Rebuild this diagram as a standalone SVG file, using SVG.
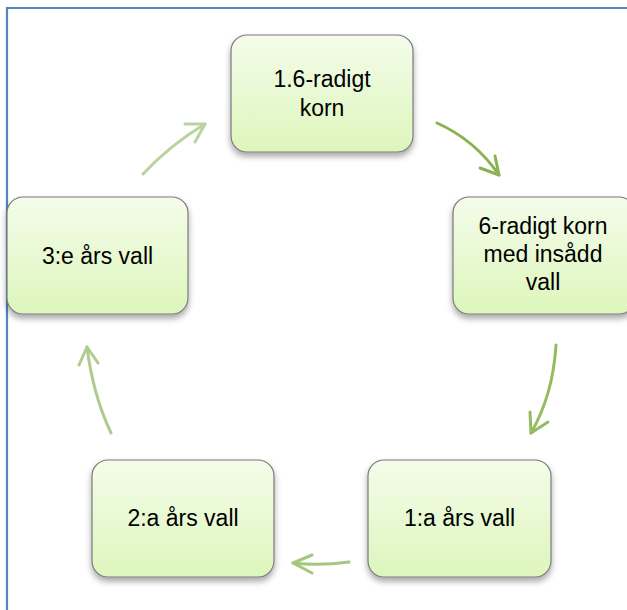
<svg xmlns="http://www.w3.org/2000/svg" width="627" height="610" viewBox="0 0 627 610">
<defs>
<linearGradient id="g" x1="0" y1="0" x2="0" y2="1">
<stop offset="0" stop-color="#F4FCEA"/>
<stop offset="1" stop-color="#DDF6BC"/>
</linearGradient>
<filter id="sh" x="-10%" y="-10%" width="120%" height="130%">
<feDropShadow dx="0" dy="4" stdDeviation="3" flood-color="#000" flood-opacity="0.35"/>
</filter>
</defs>
<style>
.box{fill:url(#g);stroke:#7A7A7A;stroke-width:1.2;filter:url(#sh)}
.t{font-family:"Liberation Sans",Arial,sans-serif;font-size:23px;fill:#000;text-anchor:middle}
.a{fill:none;stroke-width:3;stroke-linecap:round;stroke-linejoin:round}
</style>
<rect width="627" height="610" fill="#fff"/>
<path d="M7 610 V8 H627" fill="none" stroke="#5585C0" stroke-width="2.2"/>
<g id="connectors">
<g class="a" stroke="#8AB34F"><path d="M437 123 Q475 140 499 175"/><path d="M480 168 L499 175 L495 156"/></g>
<g class="a" stroke="#95BB60"><path d="M556 345 Q553 395 531 433"/><path d="M530 412 L531 433 L548 422"/></g>
<g class="a" stroke="#A5C67E"><path d="M349 562 Q320 566 293 563"/><path d="M312 555 L293 563 L312 573"/></g>
<g class="a" stroke="#AFCC8E"><path d="M111 433 Q93 395 87 347"/><path d="M79 365 L87 347 L98 363"/></g>
<g class="a" stroke="#BAD49F"><path d="M143 174 Q170 145 205 124"/><path d="M185 124 L205 124 L195 142"/></g>
</g>
<g id="n1"><rect class="box" x="231" y="35" width="182" height="117" rx="16"/>
<text class="t" x="322" y="87">1.6-radigt</text><text class="t" x="322" y="116">korn</text></g>
<g id="n2"><rect class="box" x="453" y="197" width="182" height="117" rx="16"/>
<text class="t" x="543" y="234">6-radigt korn</text><text class="t" x="543" y="262">med insådd</text><text class="t" x="543" y="290">vall</text></g>
<g id="n3"><rect class="box" x="368" y="460" width="183" height="117" rx="16"/>
<text class="t" x="459.5" y="526">1:a års vall</text></g>
<g id="n4"><rect class="box" x="92" y="460" width="182" height="117" rx="16"/>
<text class="t" x="183" y="526">2:a års vall</text></g>
<g id="n5"><rect class="box" x="7" y="197" width="181" height="117" rx="16"/>
<text class="t" x="97.5" y="264">3:e års vall</text></g>
</svg>
